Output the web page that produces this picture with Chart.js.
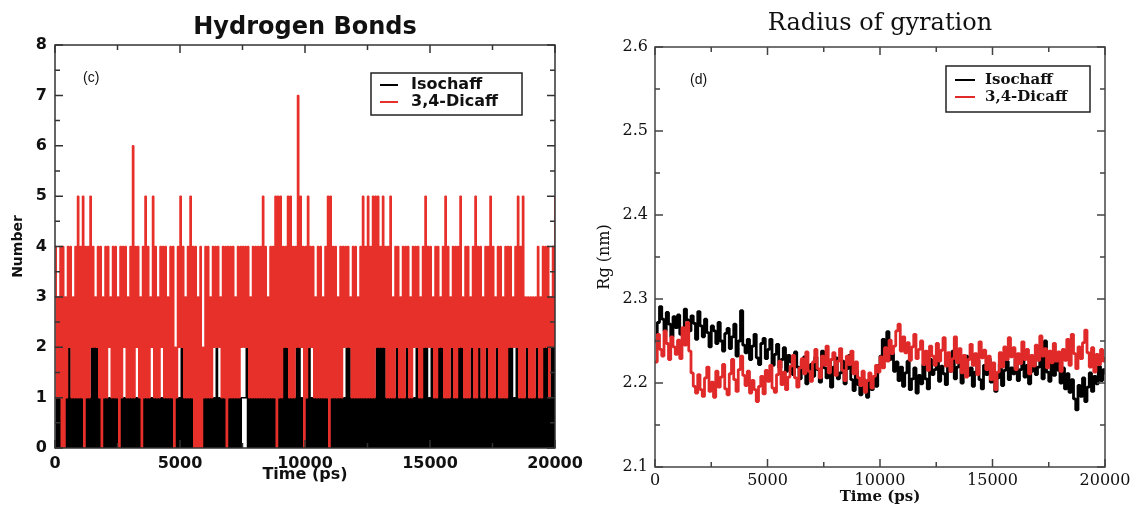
<!DOCTYPE html>
<html>
<head>
<meta charset="utf-8">
<script src="https://cdn.jsdelivr.net/npm/chart.js@4.4.1/dist/chart.umd.min.js"></script>
<style>
  html, body { margin: 0; background: #fff; }
  #hb { position: absolute; left: 0; top: 0; }
  #rg { position: absolute; left: 590px; top: 0; }
</style>
</head>
<body>
<canvas id="hb" width="590" height="505"></canvas>
<canvas id="rg" width="548" height="505"></canvas>
<script>
// (c) hydrogen bonds, one frame every 50 ps
const hbStep = 50;
const hbIsochaff = [
  0,1,0,1,0,1,0,1,0,1,0,2,0,1,0,1,0,1,0,1,
  0,1,0,1,0,1,0,1,0,2,0,2,0,2,0,1,0,1,0,1,
  0,1,0,1,0,1,0,1,0,1,0,1,0,1,0,1,0,1,0,1,
  0,1,0,1,0,1,0,1,0,1,0,1,0,1,0,1,0,1,0,1,
  0,1,0,1,0,1,0,1,0,1,0,1,0,1,0,1,0,1,0,1,
  0,2,0,1,0,1,0,1,0,1,0,1,0,1,0,1,0,1,0,1,
  0,1,0,1,0,1,0,1,0,2,0,1,0,1,0,1,0,1,0,1,
  0,1,0,1,0,1,0,1,0,1,1,1,1,2,0,1,0,1,0,1,
  0,1,0,1,0,1,0,1,0,1,0,1,0,1,0,1,0,1,0,1,
  0,1,0,2,0,2,0,1,0,1,0,1,0,2,0,2,0,1,0,1,
  0,1,0,2,0,1,0,1,0,1,0,1,0,1,0,1,0,1,0,1,
  0,1,0,1,0,1,0,1,0,1,0,1,0,2,0,2,0,1,0,1,
  0,1,0,1,0,1,0,1,0,1,0,1,0,1,0,1,0,2,0,2,
  0,2,0,2,0,1,0,1,0,1,0,1,0,2,0,1,0,1,0,1,
  0,2,0,1,0,1,0,1,0,2,0,1,0,1,0,2,0,2,0,1,
  0,2,0,1,0,1,0,2,0,2,0,1,0,1,0,1,0,2,0,1,
  0,1,0,2,0,2,0,1,0,1,0,1,0,2,0,1,0,1,0,2,
  0,1,0,1,0,2,0,1,0,1,0,1,0,2,0,1,0,1,0,1,
  0,1,0,2,0,2,0,1,0,2,0,1,0,1,0,1,0,2,0,1,
  0,1,0,1,0,2,0,1,0,1,0,2,0,2,0,1,0,2,0,2,
  0
];
const hbDicaff = [
  4,1,3,1,4,0,4,0,3,1,4,2,4,1,3,1,4,1,5,1,
  4,1,5,0,4,1,4,1,5,2,4,2,3,2,4,1,4,0,3,1,
  4,1,4,2,3,1,4,1,4,1,3,0,4,1,4,2,4,1,3,1,
  4,1,6,1,4,2,4,1,3,0,4,1,5,1,4,1,3,2,5,1,
  4,1,3,1,4,2,4,1,4,1,3,1,4,1,4,0,2,1,4,2,
  5,2,4,1,3,1,4,1,5,1,4,0,4,0,3,0,4,0,2,1,
  4,1,4,1,3,1,4,2,4,2,4,2,3,1,4,1,4,0,4,1,
  4,1,4,1,3,1,4,1,4,2,4,2,4,2,4,1,3,1,4,1,
  4,1,4,1,4,1,5,1,4,1,3,1,4,1,4,1,5,0,5,1,
  5,1,4,2,4,2,5,1,5,1,4,1,4,2,7,2,5,2,4,0,
  4,1,5,2,4,2,4,1,3,1,4,1,4,1,3,1,4,1,5,0,
  5,1,4,1,4,1,3,1,4,1,4,2,4,2,4,2,3,1,4,1,
  4,1,3,1,4,1,5,1,4,1,5,1,4,1,5,1,5,2,5,2,
  4,2,5,2,4,1,4,1,5,1,3,1,4,2,4,1,3,1,4,1,
  4,2,4,1,3,1,4,2,4,2,4,1,3,1,4,2,5,2,4,2,
  4,2,3,1,4,1,4,2,3,2,4,1,5,1,4,1,3,2,4,1,
  4,1,4,2,5,2,3,1,4,1,4,1,3,2,4,1,5,1,4,2,
  4,1,3,1,4,2,4,1,5,1,4,1,3,2,4,1,4,1,3,1,
  4,1,4,2,4,2,3,2,4,2,5,1,4,1,5,1,3,2,3,1,
  3,1,3,1,3,2,4,1,3,1,4,2,4,2,4,1,3,2,4,2,
  5
];
const hbXTicks = [0, 5000, 10000, 15000, 20000];
const hbYTicks = [0, 1, 2, 3, 4, 5, 6, 7, 8];

// (d) radius of gyration, one frame every 100 ps
const rgStep = 100;
const rgIsochaff = [
  2.250, 2.272, 2.291, 2.276, 2.262, 2.284, 2.270, 2.255, 2.279, 2.266,
  2.281, 2.258, 2.263, 2.288, 2.275, 2.262, 2.280, 2.271, 2.252, 2.285,
  2.268, 2.255, 2.276, 2.260, 2.243, 2.268, 2.262, 2.247, 2.272, 2.250,
  2.238, 2.259, 2.265, 2.241, 2.255, 2.270, 2.232, 2.250, 2.286, 2.245,
  2.236, 2.252, 2.228, 2.244, 2.258, 2.230, 2.222, 2.247, 2.253, 2.229,
  2.240, 2.252, 2.221, 2.234, 2.246, 2.218, 2.228, 2.242, 2.214, 2.233,
  2.225, 2.210, 2.237, 2.219, 2.205, 2.226, 2.231, 2.199, 2.214, 2.222,
  2.208, 2.231, 2.216, 2.201, 2.238, 2.218, 2.206, 2.227, 2.195, 2.219,
  2.230, 2.205, 2.212, 2.226, 2.199, 2.217, 2.233, 2.204, 2.191, 2.214,
  2.198, 2.186, 2.205, 2.190, 2.183, 2.202, 2.192, 2.208, 2.196, 2.221,
  2.232, 2.252, 2.240, 2.261, 2.228, 2.236, 2.214, 2.225, 2.203, 2.219,
  2.196, 2.212, 2.226, 2.192, 2.205, 2.218, 2.188, 2.209, 2.199, 2.222,
  2.205, 2.193, 2.228, 2.210, 2.216, 2.234, 2.202, 2.220, 2.211, 2.198,
  2.226, 2.214, 2.238, 2.205, 2.219, 2.228, 2.200, 2.215, 2.232, 2.209,
  2.218, 2.196, 2.213, 2.227, 2.204, 2.193, 2.221, 2.210, 2.229, 2.201,
  2.214, 2.190, 2.206, 2.223, 2.197, 2.215, 2.226, 2.204, 2.218, 2.211,
  2.229, 2.203, 2.216, 2.232, 2.207, 2.221, 2.199, 2.214, 2.226, 2.210,
  2.219, 2.235, 2.205, 2.250, 2.213, 2.202, 2.224, 2.209, 2.229, 2.215,
  2.200, 2.218, 2.193, 2.211, 2.189, 2.204, 2.181, 2.168, 2.197, 2.184,
  2.206, 2.178, 2.195, 2.212, 2.190, 2.208, 2.199, 2.220, 2.203, 2.216,
  2.210
];
const rgDicaff = [
  2.225, 2.258, 2.240, 2.232, 2.262, 2.247, 2.228, 2.255, 2.243, 2.234,
  2.251, 2.229, 2.266, 2.245, 2.272, 2.238, 2.212, 2.196, 2.188, 2.210,
  2.192, 2.184, 2.206, 2.219, 2.190, 2.201, 2.183, 2.214, 2.195, 2.207,
  2.222, 2.193, 2.186, 2.211, 2.228, 2.204, 2.190, 2.216, 2.232, 2.209,
  2.197, 2.214, 2.188, 2.203, 2.192, 2.178, 2.196, 2.208, 2.187, 2.215,
  2.202, 2.221, 2.194, 2.189, 2.210, 2.226, 2.198, 2.213, 2.192, 2.207,
  2.220, 2.233, 2.206, 2.195, 2.218, 2.229, 2.211, 2.237, 2.214, 2.202,
  2.225, 2.240, 2.217, 2.206, 2.232, 2.221, 2.244, 2.212, 2.228, 2.236,
  2.209, 2.226, 2.241, 2.215, 2.203, 2.232, 2.222, 2.238, 2.211, 2.225,
  2.206, 2.197, 2.214, 2.189, 2.203, 2.212, 2.194, 2.208, 2.221, 2.213,
  2.231, 2.218, 2.242, 2.226, 2.251, 2.235, 2.244, 2.262, 2.270, 2.238,
  2.255, 2.236, 2.248, 2.227, 2.243, 2.258, 2.229, 2.240, 2.250, 2.222,
  2.238, 2.215, 2.244, 2.232, 2.221, 2.247, 2.226, 2.239, 2.254, 2.220,
  2.236, 2.214, 2.229, 2.255, 2.224, 2.241, 2.212, 2.233, 2.207, 2.228,
  2.246, 2.221, 2.235, 2.210, 2.249, 2.230, 2.239, 2.216, 2.232, 2.204,
  2.224, 2.192, 2.213, 2.236, 2.219, 2.243, 2.228, 2.254, 2.231, 2.242,
  2.216, 2.235, 2.223, 2.249, 2.228, 2.240, 2.211, 2.233, 2.220, 2.245,
  2.227, 2.256, 2.232, 2.241, 2.218, 2.238, 2.224, 2.247, 2.226, 2.237,
  2.214, 2.240, 2.227, 2.252, 2.221, 2.258, 2.235, 2.217, 2.243, 2.229,
  2.248, 2.263, 2.236, 2.219, 2.242, 2.213, 2.234, 2.222, 2.240, 2.226,
  2.231
];
const rgXTicks = [0, 5000, 10000, 15000, 20000];
const rgYTicks = [2.1, 2.2, 2.3, 2.4, 2.5, 2.6];

function toPoints(values, step) {
  return values.map((v, i) => ({ x: i * step, y: v }));
}

function midpoints(ticks) {
  const out = [];
  for (let i = 1; i < ticks.length; i++) out.push((ticks[i - 1] + ticks[i]) / 2);
  return out;
}

// box around the plot with inward ticks on all four sides
const framePlugin = {
  id: 'frame',
  afterDraw(chart, args, o) {
    const { ctx, chartArea: a, scales: { x, y } } = chart;
    ctx.save();
    ctx.strokeStyle = o.color;
    ctx.lineWidth = o.width;
    ctx.beginPath();
    const tickX = (vals, len) => vals.forEach(v => {
      const px = x.getPixelForValue(v);
      ctx.moveTo(px, a.top); ctx.lineTo(px, a.top + len);
      ctx.moveTo(px, a.bottom); ctx.lineTo(px, a.bottom - len);
    });
    const tickY = (vals, len) => vals.forEach(v => {
      const py = y.getPixelForValue(v);
      ctx.moveTo(a.left, py); ctx.lineTo(a.left + len, py);
      ctx.moveTo(a.right, py); ctx.lineTo(a.right - len, py);
    });
    tickX(o.xTicks, 8); tickX(midpoints(o.xTicks), 5);
    tickY(o.yTicks, 8); tickY(midpoints(o.yTicks), 5);
    ctx.stroke();
    ctx.strokeRect(a.left, a.top, a.right - a.left, a.bottom - a.top);
    ctx.restore();
  }
};

// boxed legend inside the plot plus the panel tag
const legendBox = {
  id: 'legendBox',
  afterDraw(chart, args, o) {
    const { ctx } = chart;
    ctx.save();
    ctx.strokeStyle = '#222';
    ctx.lineWidth = 1.5;
    ctx.strokeRect(o.x, o.y, o.w, o.h);
    ctx.font = o.font;
    ctx.textBaseline = 'middle';
    ctx.fillStyle = '#111';
    chart.data.datasets.forEach((ds, i) => {
      const ry = o.y + o.rows[i];
      ctx.strokeStyle = ds.borderColor;
      ctx.lineWidth = 2;
      ctx.beginPath();
      ctx.moveTo(o.x + o.line[0], ry);
      ctx.lineTo(o.x + o.line[1], ry);
      ctx.stroke();
      ctx.fillText(ds.label, o.x + o.textX, ry);
    });
    ctx.font = o.tagFont;
    ctx.fillText(o.tag, o.tagX, o.tagY);
    ctx.restore();
  }
};

Chart.defaults.color = '#111';

new Chart(document.getElementById('hb'), {
  type: 'line',
  data: {
    datasets: [
      { label: 'Isochaff', data: toPoints(hbIsochaff, hbStep), borderColor: '#000000', borderWidth: 1.5, order: 1 },
      { label: '3,4-Dicaff', data: toPoints(hbDicaff, hbStep), borderColor: '#e8302b', borderWidth: 1.5, order: 0 }
    ]
  },
  options: {
    responsive: false,
    animation: false,
    layout: { padding: { left: 0, right: 35, top: 0, bottom: 0 } },
    elements: { point: { radius: 0 }, line: { tension: 0, stepped: true, borderJoinStyle: 'bevel' } },
    scales: {
      x: {
        type: 'linear', min: 0, max: 20000,
        afterBuildTicks: s => { s.ticks = hbXTicks.map(v => ({ value: v })); },
        afterFit: s => { s.height = 57; },
        grid: { display: false, drawTicks: false },
        border: { display: false },
        ticks: { padding: 6, maxRotation: 0, autoSkip: false, color: '#111',
                 font: { family: 'DejaVu Sans', size: 16, weight: 'bold' }, callback: v => String(v) },
        title: { display: true, text: 'Time (ps)', color: '#111', padding: { top: 0, bottom: 21 },
                 font: { family: 'DejaVu Sans', size: 16, weight: 'bold' } }
      },
      y: {
        min: 0, max: 8,
        afterBuildTicks: s => { s.ticks = hbYTicks.map(v => ({ value: v })); },
        afterFit: s => { s.width = 55; },
        grid: { display: false, drawTicks: false },
        border: { display: false },
        ticks: { padding: 8, color: '#111', font: { family: 'DejaVu Sans', size: 16, weight: 'bold' }, callback: v => String(v) },
        title: { display: true, text: 'Number', color: '#111', padding: { top: 10, bottom: 0 },
                 font: { family: 'DejaVu Sans', size: 14, weight: 'bold' } }
      }
    },
    plugins: {
      legend: { display: false },
      tooltip: { enabled: false },
      title: { display: true, text: 'Hydrogen Bonds', fullSize: false, color: '#111',
               padding: { top: 13.6, bottom: 2.6 }, font: { family: 'DejaVu Sans', size: 24, weight: 'bold' } },
      frame: { color: '#333', width: 1.5, xTicks: hbXTicks, yTicks: hbYTicks },
      legendBox: { x: 371, y: 73, w: 151, h: 42, rows: [12, 29], line: [9, 27], textX: 40,
                   font: 'bold 16px "DejaVu Sans"', tag: '(c)', tagX: 83, tagY: 78, tagFont: '14px "Liberation Sans"' }
    }
  },
  plugins: [framePlugin, legendBox]
});

new Chart(document.getElementById('rg'), {
  type: 'line',
  data: {
    datasets: [
      { label: 'Isochaff', data: toPoints(rgIsochaff, rgStep), borderColor: '#000000', borderWidth: 2.8, order: 1 },
      { label: '3,4-Dicaff', data: toPoints(rgDicaff, rgStep), borderColor: '#e02a2a', borderWidth: 2.8, order: 0 }
    ]
  },
  options: {
    responsive: false,
    animation: false,
    layout: { padding: { left: 0, right: 33, top: 0, bottom: 0 } },
    elements: { point: { radius: 0 }, line: { tension: 0, stepped: true, borderJoinStyle: 'bevel' } },
    scales: {
      x: {
        type: 'linear', min: 0, max: 20000,
        afterBuildTicks: s => { s.ticks = rgXTicks.map(v => ({ value: v })); },
        afterFit: s => { s.height = 38; },
        grid: { display: false, drawTicks: false },
        border: { display: false },
        ticks: { padding: 4, maxRotation: 0, autoSkip: false, color: '#111',
                 font: { family: 'DejaVu Serif', size: 16 }, callback: v => String(v) },
        title: { display: true, text: 'Time (ps)', color: '#111', padding: { top: 0, bottom: 0 },
                 font: { family: 'DejaVu Serif', size: 15, weight: 'bold', lineHeight: 1 } }
      },
      y: {
        min: 2.1, max: 2.6,
        afterBuildTicks: s => { s.ticks = rgYTicks.map(v => ({ value: v })); },
        afterFit: s => { s.width = 65; },
        grid: { display: false, drawTicks: false },
        border: { display: false },
        ticks: { padding: 7, color: '#111', font: { family: 'DejaVu Serif', size: 16 }, callback: v => v.toFixed(1) },
        title: { display: true, text: 'Rg (nm)', color: '#111', padding: { top: 5, bottom: 0 },
                 font: { family: 'DejaVu Serif', size: 16 } }
      }
    },
    plugins: {
      legend: { display: false },
      tooltip: { enabled: false },
      title: { display: true, text: 'Radius of gyration', fullSize: false, color: '#111',
               padding: { top: 9.6, bottom: 8.6 }, font: { family: 'DejaVu Serif', size: 24, weight: 'normal' } },
      frame: { color: '#444', width: 1.5, xTicks: rgXTicks, yTicks: rgYTicks },
      legendBox: { x: 356, y: 66, w: 144, h: 46, rows: [14, 31], line: [9, 29], textX: 39,
                   font: 'bold 15px "DejaVu Serif"', tag: '(d)', tagX: 100, tagY: 80, tagFont: '14px "Liberation Sans"' }
    }
  },
  plugins: [framePlugin, legendBox]
});
</script>
</body>
</html>
